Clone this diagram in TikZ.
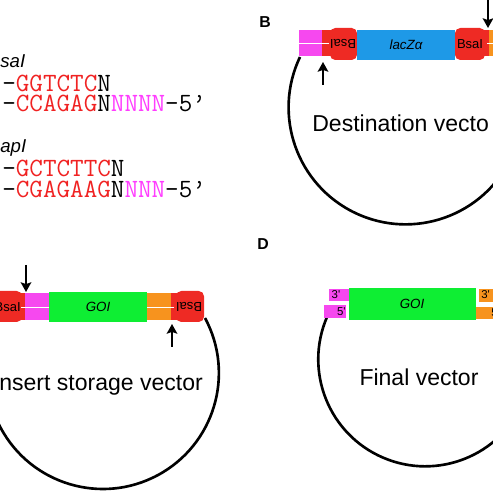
\documentclass[tikz,border=0pt]{standalone}
\usepackage{fontspec}
\setmainfont{Liberation Sans}
\setmonofont{Latin Modern Mono}
\usetikzlibrary{arrows.meta,positioning,calc}

\definecolor{bsared}{HTML}{EE2A24}
\definecolor{ohpink}{HTML}{F648EF}
\definecolor{ohorange}{HTML}{F7931E}
\definecolor{goigreen}{HTML}{0EEE33}
\definecolor{lacblue}{HTML}{1E99E7}
\definecolor{seqred}{HTML}{F02222}
\definecolor{seqpink}{HTML}{FF3CFF}

\tikzset{
  seq/.style={font=\fontsize{15}{15}\selectfont\ttfamily, anchor=base west, inner sep=0pt, text height=9.5pt, text depth=0.5pt},
  enzyme/.style={font=\fontsize{10.6}{11}\selectfont\itshape, anchor=base west, inner sep=0pt},
  panel/.style={font=\fontsize{9}{9}\selectfont\bfseries, inner sep=0pt},
  vecname/.style={font=\fontsize{13.1}{13}\selectfont, anchor=base west, inner sep=0pt},
  barlabel/.style={font=\fontsize{7.4}{7.4}\selectfont, inner sep=0pt},
  endlabel/.style={font=\fontsize{6.5}{6.5}\selectfont, inner sep=0pt},
  cut/.style={-{Stealth[length=5.5pt,width=6pt,inset=1pt]}, line width=1.2pt},
  ring/.style={line width=1.5pt},
  nick/.style={white, line width=0.5pt},
}

\begin{document}
\begin{tikzpicture}[x=0.02cm, y=0.02cm]
\useasboundingbox (0,0) rectangle (493,493);
\clip (0,0) rectangle (493,493);

% A: recognition sites
\node[enzyme] (bsaName) at (0,425) {saI};
\node[seq] (bsaTop) at (2,401) {-\textcolor{seqred}{GGTCTC}N};
\node[seq] (bsaBot) at (2,381) {-\textcolor{seqred}{CCAGAG}N\textcolor{seqpink}{NNNN}-5\textquoteright};
\node[enzyme] (sapName) at (0,340) {apI};
\node[seq] (sapTop) at (2,316) {-\textcolor{seqred}{GCTCTTC}N};
\node[seq] (sapBot) at (2,295) {-\textcolor{seqred}{CGAGAAG}N\textcolor{seqpink}{NNN}-5\textquoteright};

% B: destination vector
\node[panel] (labB) at (265,471) {B};
\draw[ring] (300,436) arc[start angle=154.5, end angle=385.5, radius=117];
\fill[ohpink] (299,437) rectangle (324,463);
\fill[bsared] (322,437) rectangle (333,463);
\fill[bsared, rounded corners=3pt] (330,433) rectangle (357,465);
\fill[lacblue] (357,433) rectangle (455,463);
\fill[bsared, rounded corners=3pt] (455,433) rectangle (485,465);
\fill[bsared] (482,437) rectangle (489,463);
\fill[ohorange] (489,437) rectangle (500,463);
\draw[nick] (299,450) -- (329,450);
\draw[nick] (487,450) -- (500,450);
\node[barlabel, rotate=180] (bsaBl) at (343,449) {BsaI};
\node[barlabel, font=\fontsize{7.6}{7.6}\selectfont\itshape] (lacZ) at (406,448) {lacZα};
\node[barlabel] (bsaBr) at (470,449) {BsaI};
\coordinate (cutBrTail) at (488,497);
\coordinate (cutBrTip) at (488,465);
\draw[cut] (cutBrTail) -- (cutBrTip);
\coordinate (cutBlTail) at (323,408);
\coordinate (cutBlTip) at (323,431);
\draw[cut] (cutBlTail) -- (cutBlTip);
\node[vecname] (destName) at (312,361) {Destination vecto};

% C: insert storage vector
\draw[ring] (205,175) arc[start angle=28.3, end angle=-200, radius=116];
\fill[bsared, rounded corners=3pt] (-10,171) rectangle (22,202);
\fill[bsared] (18,173) rectangle (26,200);
\fill[ohpink] (25,173) rectangle (49,200);
\fill[goigreen] (49,171) rectangle (147,201);
\fill[ohorange] (147,173) rectangle (172,200);
\fill[bsared] (171,173) rectangle (179,200);
\fill[bsared, rounded corners=3pt] (176,171) rectangle (204,202);
\draw[nick] (21,186) -- (49,186);
\draw[nick] (147,186) -- (174,186);
\node[barlabel, anchor=east] (bsaCl) at (21,186) {BsaI};
\node[barlabel, font=\fontsize{7.6}{7.6}\selectfont\itshape] (goiC) at (98,186) {GOI};
\node[barlabel, rotate=180] (bsaCr) at (189,186) {BsaI};
\coordinate (cutClTail) at (26,228);
\coordinate (cutClTip) at (26,201);
\draw[cut] (cutClTail) -- (cutClTip);
\coordinate (cutCrTail) at (172,146);
\coordinate (cutCrTip) at (172,169);
\draw[cut] (cutCrTail) -- (cutCrTip);
\node[vecname] (storeName) at (-1,102) {nsert storage vector};

% D: final vector
\node[panel] (labD) at (263,249) {D};
\draw[ring] (327,176) arc[start angle=156.7, end angle=386.7, radius=107];
\fill[ohpink] (329,192) rectangle (349,204);
\fill[ohpink] (324,175) rectangle (346,188);
\fill[goigreen] (349,173) rectangle (476,205);
\fill[ohorange] (479,191) rectangle (500,204);
\fill[ohorange] (476,174) rectangle (500,186);
\node[endlabel] (pinkTop) at (336,198) {3\textquotesingle};
\node[endlabel, anchor=east] (pinkBot) at (346,181) {5\textquotesingle};
\node[barlabel, font=\fontsize{7.6}{7.6}\selectfont\itshape] (goiD) at (412,189) {GOI};
\node[endlabel, anchor=west] (orTop) at (481,198) {3\textquotesingle};
\node[endlabel, anchor=west] (orBot) at (491,180) {5\textquotesingle};
\node[vecname, anchor=base] (finalName) at (419,107) {Final vector};
\end{tikzpicture}
\end{document}
